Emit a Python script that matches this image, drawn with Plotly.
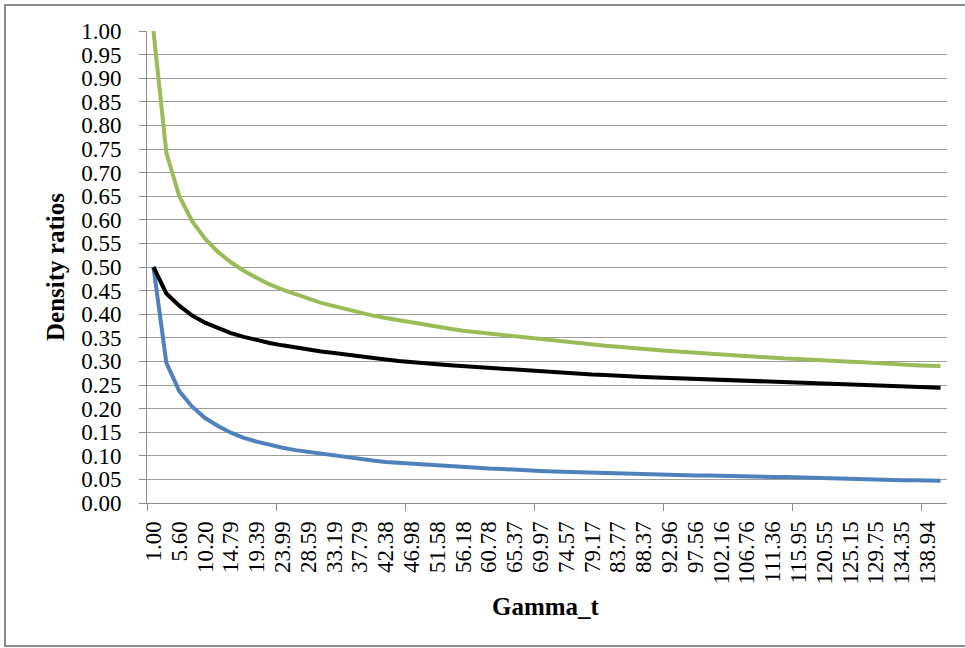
import plotly.graph_objects as go

# Gamma_t categories (x axis)
gamma_t = [
    "1.00", "3.30", "5.60", "7.90", "10.20", "12.50", "14.79", "17.09", "19.39", "21.69",
    "23.99", "26.29", "28.59", "30.89", "33.19", "35.49", "37.79", "40.09", "42.38", "44.68",
    "46.98", "49.28", "51.58", "53.88", "56.18", "58.48", "60.78", "63.08", "65.37", "67.67",
    "69.97", "72.27", "74.57", "76.87", "79.17", "81.47", "83.77", "86.07", "88.37", "90.67",
    "92.96", "95.26", "97.56", "99.86", "102.16", "104.46", "106.76", "109.06", "111.36", "113.66",
    "115.95", "118.25", "120.55", "122.85", "125.15", "127.45", "129.75", "132.05", "134.35", "136.65",
    "138.94", "141.24",
]

# Density ratio series
green_ratio = [
    1.000, 0.742, 0.650, 0.597, 0.560, 0.532, 0.510, 0.492, 0.477, 0.463,
    0.452, 0.442, 0.432, 0.424, 0.417, 0.410, 0.403, 0.397, 0.392, 0.387,
    0.382, 0.377, 0.373, 0.369, 0.365, 0.362, 0.358, 0.355, 0.352, 0.349,
    0.346, 0.343, 0.340, 0.338, 0.335, 0.333, 0.331, 0.328, 0.326, 0.324,
    0.322, 0.320, 0.318, 0.316, 0.315, 0.313, 0.311, 0.309, 0.308, 0.306,
    0.305, 0.303, 0.302, 0.300, 0.299, 0.298, 0.296, 0.295, 0.294, 0.292,
    0.291, 0.290,
]
black_ratio = [
    0.500, 0.444, 0.418, 0.397, 0.382, 0.370, 0.360, 0.352, 0.345, 0.339,
    0.334, 0.329, 0.325, 0.321, 0.318, 0.314, 0.311, 0.307, 0.304, 0.301,
    0.298, 0.296, 0.294, 0.292, 0.290, 0.288, 0.286, 0.284, 0.282, 0.280,
    0.278, 0.277, 0.275, 0.273, 0.272, 0.271, 0.269, 0.268, 0.267, 0.266,
    0.265, 0.263, 0.262, 0.261, 0.260, 0.259, 0.258, 0.257, 0.256, 0.255,
    0.254, 0.253, 0.252, 0.251, 0.250, 0.249, 0.249, 0.248, 0.247, 0.246,
    0.245, 0.244,
]
blue_ratio = [
    0.500, 0.297, 0.237, 0.204, 0.180, 0.163, 0.149, 0.138, 0.130, 0.123,
    0.117, 0.112, 0.108, 0.104, 0.100, 0.097, 0.094, 0.090, 0.087, 0.085,
    0.083, 0.081, 0.079, 0.077, 0.076, 0.074, 0.073, 0.072, 0.070, 0.069,
    0.068, 0.067, 0.066, 0.066, 0.065, 0.064, 0.063, 0.062, 0.061, 0.060,
    0.060, 0.059, 0.058, 0.058, 0.057, 0.057, 0.056, 0.056, 0.055, 0.055,
    0.054, 0.053, 0.053, 0.052, 0.051, 0.050, 0.050, 0.049, 0.048, 0.048,
    0.047, 0.047,
]

# every other category is labelled; tick marks sit on boundaries every 10 categories
x_labels = gamma_t[::2]
boundary_ticks = [k - 0.5 for k in range(0, len(gamma_t), 10)]

FONT = "Liberation Serif"
GRID = "#9c9c9c"
AXIS = "#8c8c8c"
TICK_SIZE = 23
TITLE_SIZE = 25

fig = go.Figure()
for vals, color in [(green_ratio, "#9BBB59"), (blue_ratio, "#4F81BD"), (black_ratio, "#000000")]:
    fig.add_trace(go.Scatter(
        x=gamma_t, y=vals, mode="lines",
        line=dict(color=color, width=4),
        showlegend=False, hoverinfo="skip",
    ))

# helper trace so the tick-mark axis is drawn
fig.add_trace(go.Scatter(x=[0], y=[0], xaxis="x2", mode="markers",
                         marker=dict(opacity=0), showlegend=False, hoverinfo="skip"))

fig.update_layout(
    width=965, height=648,
    margin=dict(l=147, r=18, t=31, b=145),
    paper_bgcolor="white", plot_bgcolor="white",
    font=dict(family=FONT, color="black"),
    xaxis=dict(
        type="category", categoryorder="array", categoryarray=gamma_t,
        range=[-0.5, len(gamma_t) - 0.5],
        tickmode="array", tickvals=x_labels, ticktext=x_labels,
        tickangle=-90, ticks="", showgrid=False, zeroline=False,
        showline=True, linecolor=AXIS, linewidth=1,
        tickfont=dict(family=FONT, size=TICK_SIZE, color="black"),
        ticklabelstandoff=8,
    ),
    xaxis2=dict(
        overlaying="x", anchor="y", side="bottom",
        range=[-0.5, len(gamma_t) - 0.5],
        tickmode="array", tickvals=boundary_ticks, ticktext=[""] * len(boundary_ticks),
        ticks="outside", ticklen=7, tickcolor=AXIS, tickwidth=1,
        showgrid=False, zeroline=False, showline=False,
    ),
    yaxis=dict(
        range=[0, 1], dtick=0.05, tick0=0, tickformat=".2f",
        showgrid=True, gridcolor=GRID, gridwidth=1, zeroline=False,
        showline=True, linecolor=AXIS, linewidth=1,
        ticks="outside", ticklen=7, tickcolor=AXIS,
        tickfont=dict(family=FONT, size=TICK_SIZE, color="black"),
        ticklabelstandoff=13,
    ),
    annotations=[
        dict(text="<b>Density ratios</b>", xref="paper", yref="paper",
             x=(55 - 147) / 800, y=0.5, xanchor="center", yanchor="middle",
             textangle=-90, showarrow=False,
             font=dict(family=FONT, size=TITLE_SIZE, color="black")),
        dict(text="<b>Gamma_t</b>", xref="paper", yref="paper",
             x=(546 - 147) / 800, y=(503 - 606) / 472, xanchor="center", yanchor="middle",
             showarrow=False,
             font=dict(family=FONT, size=TITLE_SIZE, color="black")),
    ],
    shapes=[
        dict(type="rect", xref="paper", yref="paper",
             x0=(5 - 147) / 800, x1=(1000 - 147) / 800,
             y0=(503 - 646) / 472, y1=(503 - 5) / 472,
             line=dict(color="#8c8c8c", width=2), fillcolor="rgba(0,0,0,0)"),
    ],
)

fig.write_html("out.html")
